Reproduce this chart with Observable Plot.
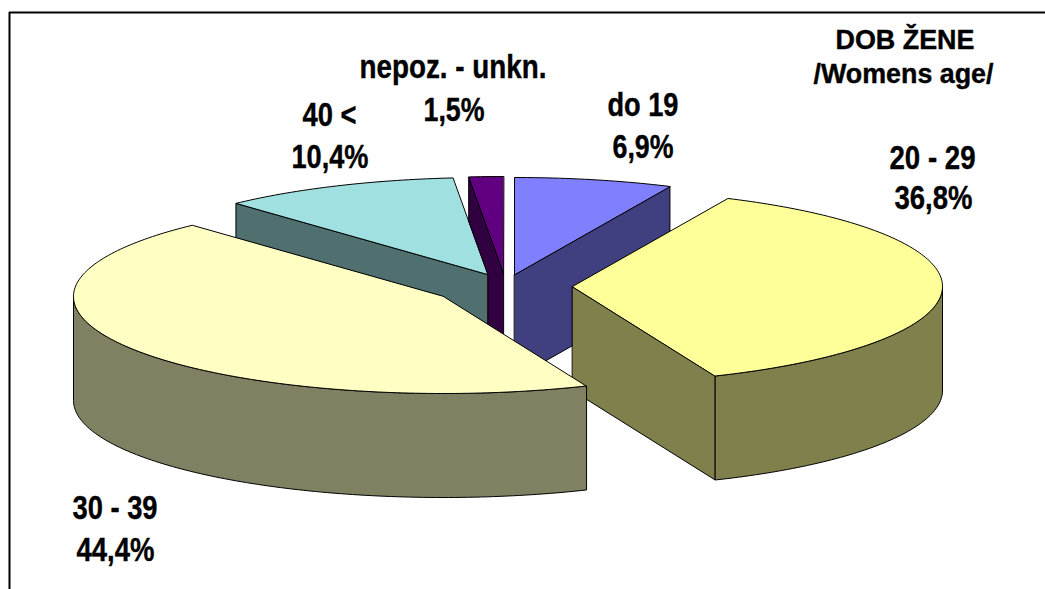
<!DOCTYPE html>
<html>
<head>
<meta charset="utf-8">
<style>html,body{margin:0;padding:0;background:#fff;overflow:hidden}svg{display:block}</style>
<script src="https://cdn.jsdelivr.net/npm/d3@7"></script>
<script src="https://cdn.jsdelivr.net/npm/@observablehq/plot@0.6"></script>
</head>
<body>
<script>
// Data
const categories = ["do 19", "20 - 29", "30 - 39", "40 <", "nepoz. - unkn."];
const shares = [6.9, 36.8, 44.4, 10.4, 1.5];

// Styles
const topColors = ["#8080FF", "#FFFF99", "#FFFFC4", "#A0E0E0", "#600080"];
const sideColors = ["#404080", "#80804C", "#808062", "#507070", "#300040"];

// Pie geometry
const pie = {cx: 500, cy: 280, rx: 370, ry: 97, depth: 104};
const explodeX = [14, 72, -57, -13, 3];
const explodeY = [-6, 6, 16, -6, -7];
const drawOrder = [0, 4, 3, 1, 2];

// Label layout: [x of left edge, baseline, rendered width]
const nameLayout = [[607, 115, 71], [889, 168, 86], [72, 518, 85], [302, 125, 54], [359, 77, 187]];
const shareLayout = [[612, 157, 61], [894, 208, 78], [76, 560, 78], [291, 167, 77], [423, 120, 61]];
const titleLines = ["DOB ŽENE", "/Womens age/"];
const titleLayout = [[835, 48, 139], [813, 82, 180]];

const total = d3.sum(shares);
let running = 0;
const slices = shares.map((v, i) => {
  const t1 = running / total * 360;
  running += v;
  const t2 = running / total * 360;
  return {i, t1, t2, ax: pie.cx + explodeX[i], ay: pie.cy + explodeY[i]};
});
const rad = Math.PI / 180;
const rim = (s, t) => [s.ax + pie.rx * Math.sin(t * rad), s.ay - pie.ry * Math.cos(t * rad)];
const arc = (s, a, b) => {
  const n = Math.max(2, Math.ceil(Math.abs(b - a)));
  return d3.range(n + 1).map(k => rim(s, a + (b - a) * k / n));
};

const faces = [];
let faceId = 0;
const pushFace = (pts, color) => {
  faceId++;
  pts.forEach(([x, y]) => faces.push({x, y, face: faceId, color}));
};
for (const idx of drawOrder) {
  const s = slices[idx];
  const side = sideColors[idx];
  const cut = t => {
    const [x, y] = rim(s, t);
    pushFace([[s.ax, s.ay], [x, y], [x, y + pie.depth], [s.ax, s.ay + pie.depth]], side);
  };
  if (s.t2 < 180) cut(s.t2);
  if (s.t1 > 180) cut(s.t1);
  const a = Math.max(s.t1, 90), b = Math.min(s.t2, 270);
  if (b > a) {
    const edge = arc(s, a, b);
    pushFace([...edge, ...edge.slice().reverse().map(([x, y]) => [x, y + pie.depth])], side);
  }
  pushFace([[s.ax, s.ay], ...arc(s, s.t1, s.t2)], topColors[idx]);
}

const fmt = v => v.toFixed(1).replace(".", ",") + "%";
const labels = [
  ...categories.map((text, i) => ({text, size: 34, l: nameLayout[i]})),
  ...shares.map((v, i) => ({text: fmt(v), size: 34, l: shareLayout[i]})),
  ...titleLines.map((text, i) => ({text, size: 28, l: titleLayout[i]}))
];

const chart = Plot.plot({
  width: 1045,
  height: 589,
  margin: 0,
  style: {background: "#fff"},
  x: {type: "identity", axis: null},
  y: {type: "identity", axis: null},
  color: {type: "identity"},
  marks: [
    Plot.line(faces, {
      x: "x", y: "y", z: "face", fill: "color",
      stroke: "#000", strokeWidth: 1, strokeOpacity: 1,
      curve: "linear-closed", strokeLinejoin: "round"
    }),
    Plot.ruleY([12], {x1: 9, x2: 1045, stroke: "#000", strokeWidth: 2}),
    Plot.ruleX([9], {y1: 12, y2: 589, stroke: "#000", strokeWidth: 2}),
    Plot.text(labels, {
      x: d => d.l[0], y: d => d.l[1], text: "text",
      textAnchor: "start", lineAnchor: "bottom",
      fontFamily: "Liberation Sans, Arial, sans-serif", fontWeight: "bold",
      fontSize: d => d.size, fill: "#000", stroke: "#000", strokeWidth: 0.4
    })
  ]
});
document.body.appendChild(chart);
const textNodes = chart.querySelectorAll('g[aria-label="text"] text');
textNodes.forEach((node, i) => {
  node.setAttribute("textLength", labels[i].l[2]);
  node.setAttribute("lengthAdjust", "spacingAndGlyphs");
});
</script>
</body>
</html>
